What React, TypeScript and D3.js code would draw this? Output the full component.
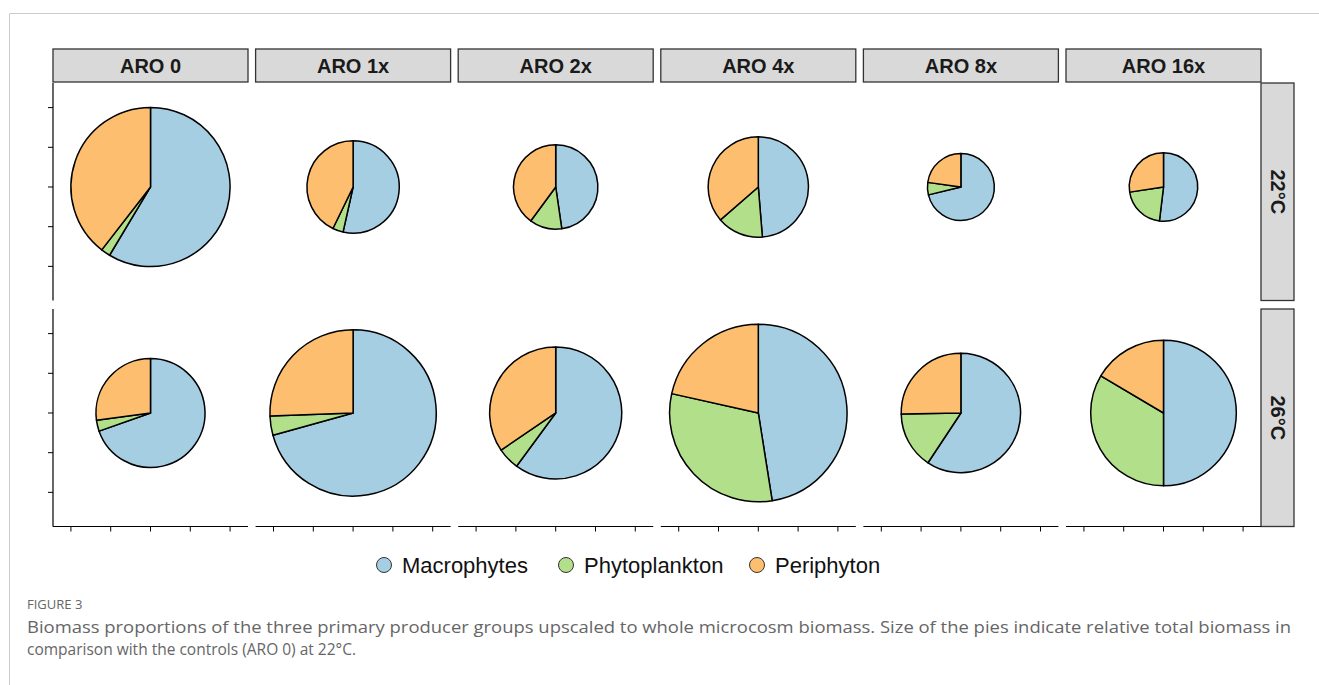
import React from "react";
import * as d3 from "d3";

const treatments = ["ARO 0", "ARO 1x", "ARO 2x", "ARO 4x", "ARO 8x", "ARO 16x"];
const temperatures = ["22°C", "26°C"];
const groups = ["Macrophytes", "Phytoplankton", "Periphyton"];
const groupColors = ["#A6CEE3", "#B2DF8A", "#FDBF6F"];

// proportions (fraction of total biomass)
const macro22 = [0.586, 0.535, 0.477, 0.487, 0.712, 0.519];
const phyto22 = [0.019, 0.037, 0.124, 0.149, 0.06, 0.207];
const peri22 = [0.395, 0.428, 0.399, 0.364, 0.228, 0.274];
const macro26 = [0.696, 0.707, 0.601, 0.475, 0.593, 0.5];
const phyto26 = [0.033, 0.037, 0.054, 0.31, 0.154, 0.335];
const peri26 = [0.271, 0.256, 0.345, 0.215, 0.253, 0.165];
// pie radius (data units), relative total biomass
const radius22 = [2.0, 1.16, 1.06, 1.26, 0.84, 0.86];
const radius26 = [1.37, 2.09, 1.66, 2.23, 1.5, 1.83];

const axisTicks = [-2, -1, 0, 1, 2];

const captionTitle = "FIGURE 3";
const captionLine1 =
  "Biomass proportions of the three primary producer groups upscaled to whole microcosm biomass. Size of the pies indicate relative total biomass in";
const captionLine2 = "comparison with the controls (ARO 0) at 22°C.";

export default function App() {
  const W = 1319;
  const H = 685;
  const panelLeft0 = 53;
  const panelStep = 202.6;
  const panelW = 195;
  const rowTops = [83, 309];
  const rowH = 217.5;
  const stripTop = 49;
  const stripH = 33;
  const xDomain: [number, number] = [-2.45, 2.45];
  const yDomain: [number, number] = [2.62, -2.86];

  const rows = [
    { macro: macro22, phyto: phyto22, peri: peri22, radius: radius22 },
    { macro: macro26, phyto: phyto26, peri: peri26, radius: radius26 },
  ];

  const pie = d3
    .pie<number>()
    .sort(null)
    .value((d) => d);

  const font = "'Liberation Sans', Arial, Helvetica, sans-serif";
  const capFont = "'Open Sans', 'Noto Sans', sans-serif";
  const legendX = [384, 566, 757];

  return (
    <div style={{ position: "absolute", left: 0, top: 0 }}>
      <svg width={W} height={H} style={{ display: "block" }}>
        <rect x={0} y={0} width={W} height={H} fill="#ffffff" />
        {/* figure frame */}
        <line x1={9.5} y1={13.5} x2={W} y2={13.5} stroke="#cccccc" strokeWidth={1} />
        <line x1={9.5} y1={13.5} x2={9.5} y2={H} stroke="#cccccc" strokeWidth={1} />

        {/* top strips */}
        {treatments.map((t, i) => {
          const x0 = panelLeft0 + i * panelStep;
          return (
            <g key={"strip" + t}>
              <rect x={x0} y={stripTop} width={panelW} height={stripH} fill="#D9D9D9" stroke="#333333" strokeWidth={1.3} />
              <text
                x={x0 + panelW / 2}
                y={stripTop + stripH / 2 + 7}
                textAnchor="middle"
                fontFamily={font}
                fontWeight="bold"
                fontSize={20}
                fill="#1a1a1a"
              >
                {t}
              </text>
            </g>
          );
        })}

        {/* right strips */}
        {temperatures.map((t, r) => {
          const x0 = panelLeft0 + 5 * panelStep + panelW;
          const y0 = rowTops[r];
          return (
            <g key={"rstrip" + t}>
              <rect x={x0} y={y0} width={stripH} height={rowH} fill="#D9D9D9" stroke="#333333" strokeWidth={1.3} />
              <text
                transform={`translate(${x0 + stripH / 2 - 7},${y0 + rowH / 2}) rotate(90)`}
                textAnchor="middle"
                fontFamily={font}
                fontWeight="bold"
                fontSize={20}
                fill="#1a1a1a"
              >
                {t}
              </text>
            </g>
          );
        })}

        {/* panels */}
        {rows.map((row, r) =>
          treatments.map((t, i) => {
            const x0 = panelLeft0 + i * panelStep;
            const y0 = rowTops[r];
            const xs = d3.scaleLinear().domain(xDomain).range([x0, x0 + panelW]);
            const ys = d3.scaleLinear().domain(yDomain).range([y0, y0 + rowH]);
            const unit = xs(1) - xs(0);
            const rad = row.radius[i] * unit;
            const vals = [row.macro[i], row.phyto[i], row.peri[i]];
            const arcs = pie(vals);
            const arc = d3.arc<d3.PieArcDatum<number>>().innerRadius(0).outerRadius(rad);
            return (
              <g key={`p${r}-${i}`}>
                {i === 0 && (
                  <g>
                    <line x1={x0} y1={y0} x2={x0} y2={y0 + rowH} stroke="#000" strokeWidth={1.2} />
                    {axisTicks.map((tk) => (
                      <line key={tk} x1={x0 - 5} x2={x0} y1={ys(tk)} y2={ys(tk)} stroke="#000" strokeWidth={1} />
                    ))}
                  </g>
                )}
                {r === 1 && (
                  <g>
                    <line x1={x0} y1={y0 + rowH} x2={x0 + panelW} y2={y0 + rowH} stroke="#000" strokeWidth={1.2} />
                    {axisTicks.map((tk) => (
                      <line key={tk} x1={xs(tk)} x2={xs(tk)} y1={y0 + rowH} y2={y0 + rowH + 5} stroke="#000" strokeWidth={1} />
                    ))}
                  </g>
                )}
                <g transform={`translate(${xs(0)},${ys(0)})`}>
                  {arcs.map((a, k) => (
                    <path
                      key={k}
                      d={arc(a) || ""}
                      fill={groupColors[k]}
                      stroke="#000"
                      strokeWidth={1.5}
                      strokeLinejoin="round"
                    />
                  ))}
                </g>
              </g>
            );
          })
        )}

        {/* legend */}
        {groups.map((g, k) => {
          const cx = legendX[k];
          return (
            <g key={g}>
              <circle cx={cx} cy={565} r={7.5} fill={groupColors[k]} stroke="#333" strokeWidth={1} />
              <text x={cx + 18} y={572.5} fontFamily={font} fontSize={22} fill="#111">
                {g}
              </text>
            </g>
          );
        })}

        {/* caption */}
        <text x={27} y={609} fontFamily={capFont} fontSize={13} fill="#666">
          {captionTitle}
        </text>
        <text x={27} y={633} fontFamily={capFont} fontSize={15.5} fill="#666" textLength={1264} lengthAdjust="spacingAndGlyphs">
          {captionLine1}
        </text>
        <text x={27} y={655} fontFamily={capFont} fontSize={15.5} fill="#666">
          {captionLine2}
        </text>
      </svg>
    </div>
  );
}
